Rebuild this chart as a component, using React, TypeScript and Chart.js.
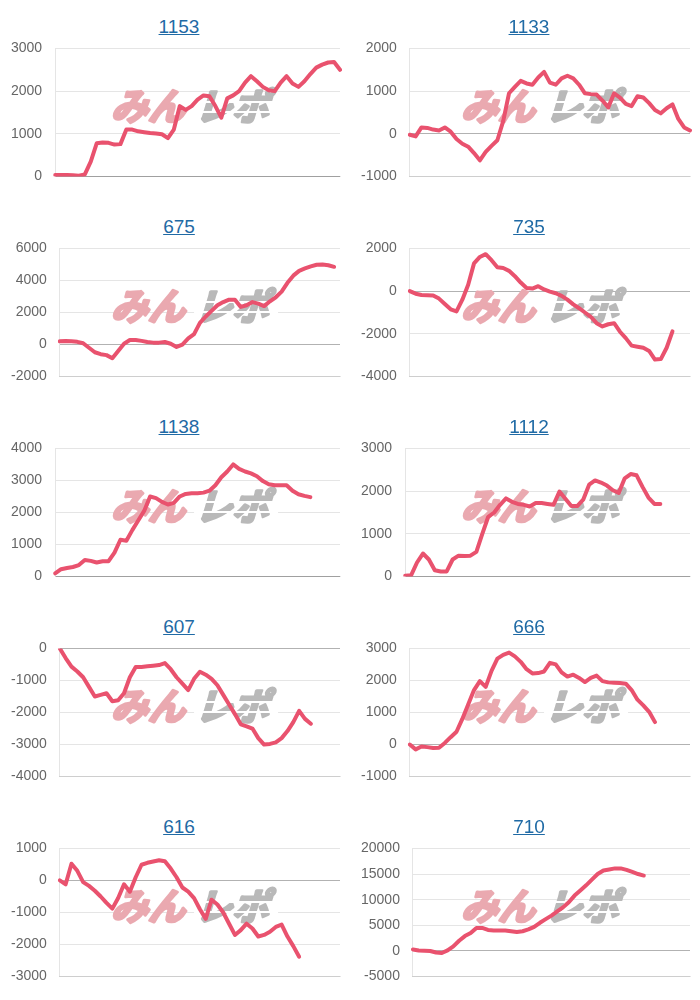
import React, { useEffect, useRef } from "react";
import { Chart, registerables } from "chart.js";

Chart.register(...registerables);

// ---- data ----
const titles = ["1153", "1133", "675", "735", "1138", "1112", "607", "666", "616", "710"];

const xLabels = [
  "1", "2", "3", "4", "5", "6", "7", "8", "9", "10",
  "11", "12", "13", "14", "15", "16", "17", "18", "19", "20",
  "21", "22", "23", "24", "25", "26", "27", "28", "29", "30",
  "31", "32", "33", "34", "35", "36", "37", "38", "39", "40",
  "41", "42", "43", "44", "45", "46", "47", "48", "49",
];

const s1153 = [40, 40, 40, 30, 20, 50, 350, 780, 800, 790, 750, 760, 1100, 1100, 1060, 1040, 1020, 1010, 990, 900, 1100, 1650, 1560, 1650, 1800, 1900, 1880, 1650, 1380, 1830, 1900, 2000, 2200, 2350, 2230, 2100, 2020, 2000, 2200, 2350, 2180, 2100, 2230, 2400, 2550, 2620, 2670, 2680, 2500];
const s1133 = [-20, -60, 150, 140, 100, 80, 150, 50, -120, -230, -300, -450, -620, -420, -280, -150, 300, 950, 1100, 1240, 1180, 1150, 1320, 1450, 1200, 1150, 1300, 1360, 1300, 1150, 950, 930, 920, 780, 620, 950, 850, 700, 650, 880, 850, 720, 560, 480, 600, 690, 350, 150, 80];
const s675 = [200, 220, 200, 170, 80, -200, -480, -600, -660, -850, -400, 50, 280, 280, 230, 160, 120, 120, 160, 50, -150, 0, 380, 650, 1350, 1750, 2100, 2450, 2650, 2800, 2800, 2350, 2450, 2650, 2550, 2400, 2700, 2950, 3300, 3850, 4300, 4600, 4750, 4880, 4980, 5000, 4950, 4850];
const s735 = [0, -120, -180, -190, -200, -350, -600, -850, -950, -400, 300, 1300, 1600, 1730, 1450, 1120, 1080, 950, 700, 400, 150, 120, 230, 80, -20, -100, -220, -400, -620, -800, -1000, -1200, -1500, -1650, -1550, -1500, -1900, -2200, -2550, -2600, -2650, -2800, -3200, -3180, -2650, -1880];
const s1138 = [100, 230, 270, 300, 360, 520, 490, 440, 480, 480, 750, 1150, 1120, 1450, 1750, 2050, 2500, 2450, 2330, 2250, 2300, 2500, 2580, 2600, 2600, 2620, 2680, 2850, 3100, 3280, 3500, 3360, 3280, 3220, 3130, 2980, 2880, 2850, 2850, 2850, 2680, 2570, 2520, 2480];
const s1112 = [20, 30, 330, 540, 400, 150, 120, 120, 400, 490, 480, 490, 580, 1000, 1400, 1500, 1680, 1830, 1750, 1700, 1680, 1640, 1720, 1720, 1700, 1680, 1990, 1820, 1650, 1650, 1800, 2150, 2250, 2200, 2130, 2020, 1960, 2300, 2400, 2370, 2100, 1850, 1700, 1700];
const s607 = [0, -300, -570, -720, -900, -1200, -1500, -1450, -1400, -1650, -1620, -1400, -900, -580, -580, -560, -540, -520, -460, -650, -900, -1100, -1300, -950, -730, -820, -950, -1150, -1450, -1750, -2050, -2370, -2430, -2500, -2800, -3000, -2980, -2930, -2800, -2580, -2300, -1950, -2200, -2350];
const s666 = [0, -150, -60, -80, -110, -100, 50, 230, 400, 800, 1250, 1700, 1980, 1800, 2300, 2680, 2800, 2870, 2750, 2580, 2350, 2220, 2230, 2280, 2550, 2500, 2250, 2120, 2180, 2080, 1950, 2080, 2150, 1980, 1940, 1930, 1920, 1900, 1700, 1400, 1220, 1020, 700];
const s616 = [0, -120, 520, 300, -50, -170, -320, -500, -700, -880, -550, -120, -350, 100, 490, 550, 590, 630, 600, 370, 100, -220, -350, -550, -900, -1200, -600, -750, -1000, -1350, -1700, -1550, -1350, -1500, -1750, -1700, -1600, -1450, -1380, -1750, -2050, -2380];
const s710 = [300, 100, 50, 0, -300, -400, 100, 900, 2000, 2900, 3500, 4500, 4500, 4100, 4000, 4000, 4000, 3850, 3700, 3850, 4200, 4700, 5500, 6200, 6900, 7700, 8500, 9500, 10800, 11800, 12800, 13900, 15000, 15700, 15900, 16100, 16100, 15800, 15400, 15000, 14700];

const seriesList = [s1153, s1133, s675, s735, s1138, s1112, s607, s666, s616, s710];

// y-axis tick ranges
const yMins = [0, -1000, -2000, -4000, 0, 0, -4000, -1000, -3000, -5000];
const yMaxs = [3000, 2000, 6000, 2000, 4000, 3000, 0, 3000, 1000, 20000];
const ySteps = [1000, 1000, 2000, 2000, 1000, 1000, 1000, 1000, 1000, 5000];

// ---- styles ----
const LINE_COLOR = "rgb(233, 82, 110)";
const FONT_FAMILY = '"Liberation Sans", Arial, Helvetica, sans-serif';
const CANVAS_TOP = 27;
const CANVAS_LEFT = -2;
const CANVAS_W = 352;
const CANVAS_H = 171;

const watermarkPlugin = {
  id: "minrepoWatermark",
  beforeDatasetsDraw(chart: any) {
    const ctx = chart.ctx as CanvasRenderingContext2D;
    ctx.save();
    // watermark is centred at a fixed spot of each panel
    ctx.translate(-CANVAS_LEFT, 106 - CANVAS_TOP);
    ctx.transform(1, 0, -0.3, 1, 0, 0);
    ctx.font = 'bold 37px "Noto Sans CJK JP", sans-serif';
    ctx.textBaseline = "middle";
    ctx.textAlign = "left";
    ctx.lineJoin = "round";
    ctx.lineWidth = 3;
    ctx.fillStyle = "#eaa9b0";
    ctx.strokeStyle = "#eaa9b0";
    ctx.strokeText("みん", 115, 0);
    ctx.fillText("みん", 115, 0);
    ctx.fillStyle = "#b9b9b9";
    ctx.strokeStyle = "#b9b9b9";
    ctx.strokeText("レポ", 199, 0);
    ctx.fillText("レポ", 199, 0);
    // speed stripes across the grey part
    ctx.fillStyle = "#ffffff";
    ctx.fillRect(196, -5, 84, 2);
    ctx.fillRect(196, 5, 84, 2);
    ctx.restore();
  },
};

function Panel({ idx }: { idx: number }) {
  const ref = useRef<HTMLCanvasElement | null>(null);
  useEffect(() => {
    if (!ref.current) return;
    const chart = new Chart(ref.current, {
      type: "line",
      data: {
        labels: xLabels,
        datasets: [
          {
            data: seriesList[idx],
            borderColor: LINE_COLOR,
            backgroundColor: LINE_COLOR,
            borderWidth: 4,
            pointRadius: 0,
            fill: false,
            tension: 0,
            borderJoinStyle: "round",
            borderCapStyle: "round",
          },
        ],
      },
      options: {
        responsive: false,
        animation: false,
        layout: { padding: { left: 0, right: 10, top: 0, bottom: 0 } },
        plugins: { legend: { display: false }, tooltip: { enabled: false }, title: { display: false } },
        scales: {
          x: {
            grid: { display: false, drawTicks: false },
            ticks: { display: false },
            border: { color: "rgba(0,0,0,0.1)" },
          },
          y: {
            min: yMins[idx],
            max: yMaxs[idx],
            ticks: {
              stepSize: ySteps[idx],
              color: "#666",
              padding: 13,
              font: { family: FONT_FAMILY, size: 14 },
              callback: (v: any) => String(v),
            },
            grid: {
              drawTicks: false,
              color: (c: any) =>
                c && c.tick && c.tick.value === 0 ? "rgba(0,0,0,0.3)" : "rgba(0,0,0,0.1)",
            },
            border: { color: "rgba(0,0,0,0.1)" },
          },
        },
      } as any,
      plugins: [watermarkPlugin],
    });
    return () => chart.destroy();
  }, [idx]);

  const left = (idx % 2) * 350;
  const top = Math.floor(idx / 2) * 200;
  return (
    <div style={{ position: "absolute", left, top, width: 350, height: 200 }}>
      <div
        style={{
          position: "absolute",
          top: 16,
          left: 8,
          width: 342,
          textAlign: "center",
          fontFamily: FONT_FAMILY,
          fontSize: 19,
          lineHeight: "22px",
        }}
      >
        <span style={{ color: "#1f6aa5", textDecoration: "underline" }}>{titles[idx]}</span>
      </div>
      <canvas
        ref={ref}
        width={CANVAS_W}
        height={CANVAS_H}
        style={{
          position: "absolute",
          left: CANVAS_LEFT,
          top: CANVAS_TOP,
          width: CANVAS_W,
          height: CANVAS_H,
        }}
      />
    </div>
  );
}

export default function App() {
  return (
    <div
      style={{
        position: "absolute",
        left: 0,
        top: 0,
        width: 700,
        height: 1000,
        background: "#fff",
        overflow: "hidden",
      }}
    >
      {titles.map((_, i) => (
        <Panel key={i} idx={i} />
      ))}
    </div>
  );
}
